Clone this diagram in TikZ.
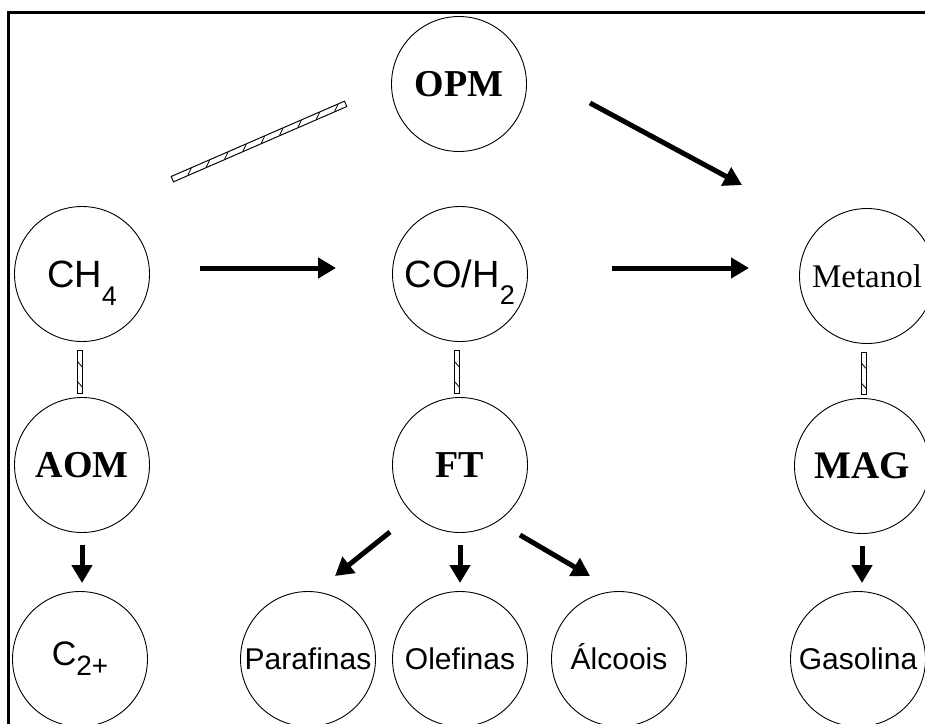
\documentclass[tikz,border=0pt]{standalone}
\usepackage{fontspec}
\setmainfont{Liberation Serif}
\newfontfamily\arialf{Liberation Sans}
\usetikzlibrary{arrows.meta,decorations.markings,calc}
\begin{document}
\begin{tikzpicture}[x=1pt,y=-1pt,
  circ/.style={draw, circle, minimum size=135pt, inner sep=0pt, line width=0.9pt},
  boldlab/.style={font=\fontsize{38}{40}\selectfont\bfseries, text height=25pt, text depth=0pt},
  sanslab/.style={font=\arialf\fontsize{38}{40}\selectfont},
  smalllab/.style={font=\arialf\fontsize{30}{32}\selectfont, text height=21pt, text depth=0pt},
  arr/.style={line width=5pt, -{Triangle[length=18pt,width=20pt]}},
  hbox/.style={draw, line width=1.1pt, double, double distance=4.6pt, line cap=rect},
  hmarks/.style={decorate, decoration={markings, mark=between positions #1 and 0.97 step 20pt with {\draw[line width=0.8pt] (-3pt,-2.6pt) -- (3pt,2.6pt);}}},
  hmarks/.default=0.06
]
\useasboundingbox (0,0) rectangle (925,723);
\clip (0,0) rectangle (925,723);
\fill[white] (0,0) rectangle (925,723);
% frame
\draw[line width=3pt] (8,730) -- (8,12) -- (930,12);

% nodes
\node[circ,boldlab] (opm) at (459,84) {OPM};
\node[circ,sanslab] (ch4) at (82,274) {CH\raisebox{-18pt}[0pt][0pt]{\fontsize{27}{27}\selectfont 4}};
\node[circ,sanslab] (co) at (460,274) {CO/H\raisebox{-17pt}[0pt][0pt]{\fontsize{27}{27}\selectfont 2}};
\node[circ,font=\fontsize{33}{35}\selectfont, text height=22pt, text depth=0pt] (met) at (867,276) {Metanol};
\node[circ,boldlab] (aom) at (82,465) {AOM};
\node[circ,boldlab] (ft) at (460,465) {FT};
\node[circ,boldlab,font=\fontsize{39}{41}\selectfont\bfseries] (mag) at (862,466) {MAG};
\node[circ,font=\arialf\fontsize{34}{36}\selectfont, text height=24pt, text depth=12pt] (c2) at (80,659) {C\raisebox{-10pt}[0pt][0pt]{\fontsize{28}{28}\selectfont 2+}};
\node[circ,smalllab] (par) at (308,659) {Parafinas};
\node[circ,smalllab] (ole) at (460,659) {Olefinas};
\node[circ,smalllab] (alc) at (619,659) {Álcoois};
\node[circ,smalllab] (gas) at (858,659) {Gasolina};

% hatched connectors
\draw[hbox] ($(opm)+(-116,21)$) -- ($(ch4)+(93,-96)$);
\path[hmarks=0.04] ($(opm)+(-116,21)$) -- ($(ch4)+(93,-96)$);
\draw[hbox] ($(ch4)+(-2,79)$) -- ($(aom)+(-2,-74)$);
\path[hmarks=0.3] ($(ch4)+(-2,79)$) -- ($(aom)+(-2,-74)$);
\draw[hbox] ($(co)+(-3,79)$) -- ($(ft)+(-3,-74)$);
\path[hmarks=0.3] ($(co)+(-3,79)$) -- ($(ft)+(-3,-74)$);
\draw[hbox] ($(met)+(-3,79)$) -- ($(mag)+(2,-74)$);
\path[hmarks=0.3] ($(met)+(-3,79)$) -- ($(mag)+(2,-74)$);

% arrows
\draw[arr] ($(ch4)+(118,-6)$) -- ($(co)+(-124,-6)$);
\draw[arr] ($(co)+(152,-6)$) -- ($(met)+(-118,-8)$);
\draw[arr] ($(opm)+(131,19)$) -- ($(met)+(-125,-91)$);
\draw[arr] ($(aom)+(0,80)$) -- ($(c2)+(2,-76)$);
\draw[arr] ($(ft)+(-70,67)$) -- ($(par)+(27,-83)$);
\draw[arr] ($(ft)+(0,80)$) -- ($(ole)+(0,-76)$);
\draw[arr] ($(ft)+(60,70)$) -- ($(alc)+(-29,-83)$);
\draw[arr] ($(mag)+(0,80)$) -- ($(gas)+(4,-76)$);
\end{tikzpicture}
\end{document}
